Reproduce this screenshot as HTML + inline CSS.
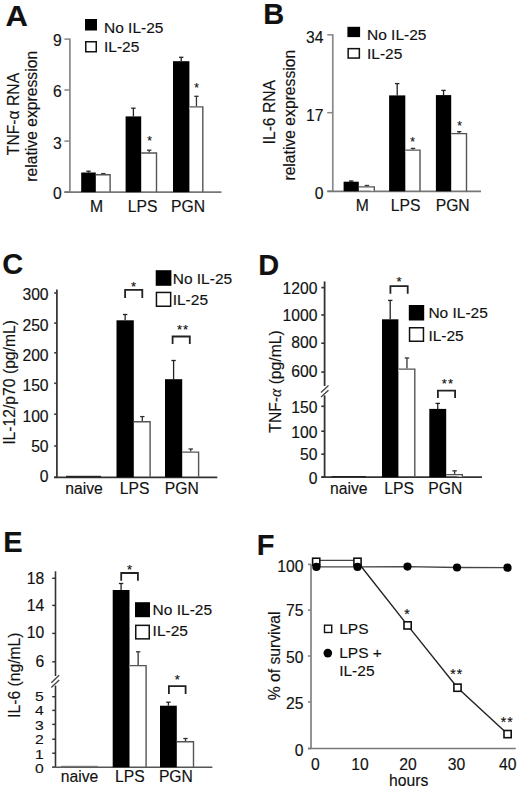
<!DOCTYPE html>
<html><head><meta charset="utf-8"><style>
html,body{margin:0;padding:0;background:#fff;width:520px;height:790px;overflow:hidden}
svg{display:block}
text{font-family:"Liberation Sans",sans-serif;fill:#111;stroke:#111;stroke-width:0.15px}
</style></head><body>
<svg width="520" height="790" viewBox="0 0 520 790">
<rect width="520" height="790" fill="#fff"/>
<text transform="translate(5.6,25.6) scale(1.07,1)" font-size="29" font-weight="bold">A</text>
<rect x="85" y="19" width="12" height="11.5" fill="#000" stroke="none" stroke-width="1.2"/>
<text x="104" y="32.6" font-size="15.5" text-anchor="start" font-weight="normal" >No IL-25</text>
<rect x="85.75" y="41.75" width="10.5" height="10.0" fill="#fff" stroke="#111" stroke-width="1.5"/>
<text x="104" y="51.5" font-size="15.5" text-anchor="start" font-weight="normal" >IL-25</text>
<line x1="69.9" y1="38.5" x2="69.9" y2="192.1" stroke="#888" stroke-width="1.7"/>
<line x1="64.4" y1="39.1" x2="69.9" y2="39.1" stroke="#888" stroke-width="1.53"/>
<text x="61.7" y="46.0206" font-size="15.7" text-anchor="end" font-weight="normal" >9</text>
<line x1="64.4" y1="90" x2="69.9" y2="90" stroke="#888" stroke-width="1.53"/>
<text x="61.7" y="96.72059999999999" font-size="15.7" text-anchor="end" font-weight="normal" >6</text>
<line x1="64.4" y1="141.1" x2="69.9" y2="141.1" stroke="#888" stroke-width="1.53"/>
<text x="61.7" y="148.9206" font-size="15.7" text-anchor="end" font-weight="normal" >3</text>
<line x1="64.4" y1="192.1" x2="69.9" y2="192.1" stroke="#888" stroke-width="1.53"/>
<text x="61.7" y="198.82059999999998" font-size="15.7" text-anchor="end" font-weight="normal" >0</text>
<line x1="64.4" y1="192.1" x2="221.5" y2="192.1" stroke="#777" stroke-width="1.7"/>
<line x1="88.5" y1="172.5" x2="88.5" y2="171.2" stroke="#222" stroke-width="1.3"/>
<line x1="86.3" y1="171.2" x2="90.7" y2="171.2" stroke="#222" stroke-width="1.3"/>
<rect x="81.2" y="172.5" width="14.599999999999994" height="19.599999999999994" fill="#000" stroke="none" stroke-width="1.2"/>
<line x1="103.3" y1="174.1" x2="103.3" y2="173.6" stroke="#333" stroke-width="1.3"/>
<line x1="101.1" y1="173.6" x2="105.5" y2="173.6" stroke="#333" stroke-width="1.3"/>
<path d="M95.8,174.7 H110.1 V192.1" stroke="#555" stroke-width="1.4" fill="#fff"/>
<line x1="133.39999999999998" y1="116.4" x2="133.39999999999998" y2="108.2" stroke="#222" stroke-width="1.3"/>
<line x1="131.2" y1="108.2" x2="135.59999999999997" y2="108.2" stroke="#222" stroke-width="1.3"/>
<rect x="125.6" y="116.4" width="15.599999999999994" height="75.69999999999999" fill="#000" stroke="none" stroke-width="1.2"/>
<line x1="149.2" y1="152.4" x2="149.2" y2="150.2" stroke="#333" stroke-width="1.3"/>
<line x1="147.0" y1="150.2" x2="151.39999999999998" y2="150.2" stroke="#333" stroke-width="1.3"/>
<path d="M141.2,153.0 H156.5 V192.1" stroke="#555" stroke-width="1.4" fill="#fff"/>
<text x="149.5" y="145.34" font-size="12" text-anchor="middle" font-weight="normal" >*</text>
<line x1="181.2" y1="61.2" x2="181.2" y2="57.3" stroke="#222" stroke-width="1.3"/>
<line x1="179.0" y1="57.3" x2="183.39999999999998" y2="57.3" stroke="#222" stroke-width="1.3"/>
<rect x="173" y="61.2" width="16.400000000000006" height="130.89999999999998" fill="#000" stroke="none" stroke-width="1.2"/>
<line x1="196.45" y1="106.3" x2="196.45" y2="96.3" stroke="#333" stroke-width="1.3"/>
<line x1="194.25" y1="96.3" x2="198.64999999999998" y2="96.3" stroke="#333" stroke-width="1.3"/>
<path d="M189.4,106.89999999999999 H202.8 V192.1" stroke="#555" stroke-width="1.4" fill="#fff"/>
<text x="196.5" y="92.34" font-size="12" text-anchor="middle" font-weight="normal" >*</text>
<text x="96.6" y="211.7" font-size="15.7" text-anchor="middle" font-weight="normal" >M</text>
<text x="142.6" y="211.7" font-size="15.7" text-anchor="middle" font-weight="normal" >LPS</text>
<text x="188" y="211.7" font-size="15.7" text-anchor="middle" font-weight="normal" >PGN</text>
<text transform="translate(18.6,114) rotate(-90)" font-size="15.7" text-anchor="middle" >TNF-α RNA</text>
<text transform="translate(37.2,116.3) rotate(-90)" font-size="15.7" text-anchor="middle" >relative expression</text>
<text x="263.2" y="23.8" font-size="29" text-anchor="start" font-weight="bold" >B</text>
<rect x="347.4" y="26.8" width="12.700000000000045" height="10.3" fill="#000" stroke="none" stroke-width="1.2"/>
<text x="367" y="40" font-size="15.5" text-anchor="start" font-weight="normal" >No IL-25</text>
<rect x="348.15" y="48.65" width="11.200000000000045" height="9.399999999999999" fill="#fff" stroke="#111" stroke-width="1.5"/>
<text x="367" y="58.6" font-size="15.5" text-anchor="start" font-weight="normal" >IL-25</text>
<line x1="332.8" y1="34.3" x2="332.8" y2="191.3" stroke="#888" stroke-width="1.7"/>
<line x1="327.3" y1="34.8" x2="332.8" y2="34.8" stroke="#888" stroke-width="1.53"/>
<text x="323.5" y="42.620599999999996" font-size="15.7" text-anchor="end" font-weight="normal" >34</text>
<line x1="327.3" y1="112.7" x2="332.8" y2="112.7" stroke="#888" stroke-width="1.53"/>
<text x="323.5" y="121.0206" font-size="15.7" text-anchor="end" font-weight="normal" >17</text>
<line x1="327.3" y1="191.3" x2="332.8" y2="191.3" stroke="#888" stroke-width="1.53"/>
<text x="323.5" y="199.2206" font-size="15.7" text-anchor="end" font-weight="normal" >0</text>
<line x1="327.3" y1="191.3" x2="481" y2="191.3" stroke="#777" stroke-width="1.7"/>
<line x1="351.20000000000005" y1="181.7" x2="351.20000000000005" y2="181" stroke="#222" stroke-width="1.3"/>
<line x1="349.00000000000006" y1="181" x2="353.40000000000003" y2="181" stroke="#222" stroke-width="1.3"/>
<rect x="343.6" y="181.7" width="15.199999999999989" height="9.600000000000023" fill="#000" stroke="none" stroke-width="1.2"/>
<line x1="366.9" y1="186.3" x2="366.9" y2="185.5" stroke="#333" stroke-width="1.3"/>
<line x1="364.7" y1="185.5" x2="369.09999999999997" y2="185.5" stroke="#333" stroke-width="1.3"/>
<path d="M358.8,186.9 H374.3 V191.3" stroke="#555" stroke-width="1.4" fill="#fff"/>
<line x1="397.20000000000005" y1="95.4" x2="397.20000000000005" y2="83.6" stroke="#222" stroke-width="1.3"/>
<line x1="395.00000000000006" y1="83.6" x2="399.40000000000003" y2="83.6" stroke="#222" stroke-width="1.3"/>
<rect x="389.1" y="95.4" width="16.19999999999999" height="95.9" fill="#000" stroke="none" stroke-width="1.2"/>
<line x1="413.0" y1="149.5" x2="413.0" y2="148.4" stroke="#333" stroke-width="1.3"/>
<line x1="410.8" y1="148.4" x2="415.2" y2="148.4" stroke="#333" stroke-width="1.3"/>
<path d="M405.3,150.1 H420.0 V191.3" stroke="#555" stroke-width="1.4" fill="#fff"/>
<text x="412.6" y="145.84" font-size="12" text-anchor="middle" font-weight="normal" >*</text>
<line x1="443.54999999999995" y1="95.1" x2="443.54999999999995" y2="90.4" stroke="#222" stroke-width="1.3"/>
<line x1="441.34999999999997" y1="90.4" x2="445.74999999999994" y2="90.4" stroke="#222" stroke-width="1.3"/>
<rect x="435.9" y="95.1" width="15.300000000000011" height="96.20000000000002" fill="#000" stroke="none" stroke-width="1.2"/>
<line x1="459.2" y1="133" x2="459.2" y2="131.7" stroke="#333" stroke-width="1.3"/>
<line x1="457.0" y1="131.7" x2="461.4" y2="131.7" stroke="#333" stroke-width="1.3"/>
<path d="M451.2,133.6 H466.5 V191.3" stroke="#555" stroke-width="1.4" fill="#fff"/>
<text x="459.6" y="130.24" font-size="12" text-anchor="middle" font-weight="normal" >*</text>
<text x="362.4" y="211.3" font-size="15.7" text-anchor="middle" font-weight="normal" >M</text>
<text x="405.7" y="211.3" font-size="15.7" text-anchor="middle" font-weight="normal" >LPS</text>
<text x="452.7" y="211.3" font-size="15.7" text-anchor="middle" font-weight="normal" >PGN</text>
<text transform="translate(275.3,112.2) rotate(-90)" font-size="15.7" text-anchor="middle" >IL-6 RNA</text>
<text transform="translate(294.5,115.2) rotate(-90)" font-size="15.7" text-anchor="middle" >relative expression</text>
<text x="2.3" y="274.2" font-size="29" text-anchor="start" font-weight="bold" >C</text>
<rect x="155.7" y="270.2" width="15.700000000000017" height="15.600000000000023" fill="#000" stroke="none" stroke-width="1.2"/>
<text x="172.7" y="284.2" font-size="15.5" text-anchor="start" font-weight="normal" >No IL-25</text>
<rect x="156.45" y="292.45" width="14.200000000000017" height="13.800000000000011" fill="#fff" stroke="#111" stroke-width="1.5"/>
<text x="172.7" y="305.2" font-size="15.5" text-anchor="start" font-weight="normal" >IL-25</text>
<line x1="56.9" y1="289.6" x2="56.9" y2="477.3" stroke="#3a3a3a" stroke-width="1.8"/>
<line x1="54.2" y1="293" x2="56.9" y2="293" stroke="#3a3a3a" stroke-width="1.62"/>
<text x="48.6" y="299.6206" font-size="15.7" text-anchor="end" font-weight="normal" >300</text>
<line x1="54.2" y1="323.1" x2="56.9" y2="323.1" stroke="#3a3a3a" stroke-width="1.62"/>
<text x="48.6" y="330.6206" font-size="15.7" text-anchor="end" font-weight="normal" >250</text>
<line x1="54.2" y1="352.8" x2="56.9" y2="352.8" stroke="#3a3a3a" stroke-width="1.62"/>
<text x="48.6" y="360.6206" font-size="15.7" text-anchor="end" font-weight="normal" >200</text>
<line x1="54.2" y1="383.3" x2="56.9" y2="383.3" stroke="#3a3a3a" stroke-width="1.62"/>
<text x="48.6" y="390.72060000000005" font-size="15.7" text-anchor="end" font-weight="normal" >150</text>
<line x1="54.2" y1="414.2" x2="56.9" y2="414.2" stroke="#3a3a3a" stroke-width="1.62"/>
<text x="48.6" y="421.6206" font-size="15.7" text-anchor="end" font-weight="normal" >100</text>
<line x1="54.2" y1="446" x2="56.9" y2="446" stroke="#3a3a3a" stroke-width="1.62"/>
<text x="48.6" y="452.0206" font-size="15.7" text-anchor="end" font-weight="normal" >50</text>
<line x1="54.2" y1="477.3" x2="56.9" y2="477.3" stroke="#3a3a3a" stroke-width="1.62"/>
<text x="48.6" y="482.22060000000005" font-size="15.7" text-anchor="end" font-weight="normal" >0</text>
<line x1="54.2" y1="477.3" x2="217.3" y2="477.3" stroke="#333" stroke-width="1.8"/>
<rect x="66" y="475.8" width="35" height="1.5" fill="#222" stroke="none" stroke-width="1.2"/>
<line x1="125.15" y1="320.3" x2="125.15" y2="314.5" stroke="#222" stroke-width="1.3"/>
<line x1="122.95" y1="314.5" x2="127.35000000000001" y2="314.5" stroke="#222" stroke-width="1.3"/>
<rect x="116.5" y="320.3" width="17.30000000000001" height="157.0" fill="#000" stroke="none" stroke-width="1.2"/>
<line x1="142.3" y1="421.2" x2="142.3" y2="416.6" stroke="#333" stroke-width="1.3"/>
<line x1="140.10000000000002" y1="416.6" x2="144.5" y2="416.6" stroke="#333" stroke-width="1.3"/>
<path d="M133.8,421.8 H150.10000000000002 V477.3" stroke="#555" stroke-width="1.4" fill="#fff"/>
<line x1="173.6" y1="379.2" x2="173.6" y2="360.5" stroke="#222" stroke-width="1.3"/>
<line x1="171.4" y1="360.5" x2="175.79999999999998" y2="360.5" stroke="#222" stroke-width="1.3"/>
<rect x="165" y="379.2" width="17.19999999999999" height="98.10000000000002" fill="#000" stroke="none" stroke-width="1.2"/>
<line x1="190.75" y1="451.5" x2="190.75" y2="449" stroke="#333" stroke-width="1.3"/>
<line x1="188.55" y1="449" x2="192.95" y2="449" stroke="#333" stroke-width="1.3"/>
<path d="M182.2,452.1 H198.60000000000002 V477.3" stroke="#555" stroke-width="1.4" fill="#fff"/>
<path d="M125.10000000000001,298.1 V289.90000000000003 H142.29999999999998 V298.1" stroke="#222" stroke-width="1.8" fill="none" />
<text x="133.5" y="291.085" font-size="13" text-anchor="middle" font-weight="normal" >*</text>
<path d="M172.6,343.9 V336.5 H189.79999999999998 V343.9" stroke="#222" stroke-width="1.8" fill="none" />
<text x="183.1" y="334.085" font-size="13" text-anchor="middle" font-weight="normal" letter-spacing="1.0">**</text>
<text x="84" y="493.5" font-size="15.7" text-anchor="middle" font-weight="normal" >naive</text>
<text x="134.6" y="493.8" font-size="15.7" text-anchor="middle" font-weight="normal" >LPS</text>
<text x="181.8" y="493.8" font-size="15.7" text-anchor="middle" font-weight="normal" >PGN</text>
<text transform="translate(14.5,382.4) rotate(-90)" font-size="15.7" text-anchor="middle" >IL-12/p70 (pg/mL)</text>
<text x="258.3" y="274.8" font-size="29" text-anchor="start" font-weight="bold" >D</text>
<rect x="408.8" y="305" width="15.399999999999977" height="15.5" fill="#000" stroke="none" stroke-width="1.2"/>
<text x="428.4" y="318.2" font-size="15.5" text-anchor="start" font-weight="normal" >No IL-25</text>
<rect x="409.55" y="327.75" width="13.899999999999977" height="13.5" fill="#fff" stroke="#111" stroke-width="1.5"/>
<text x="428.4" y="340.8" font-size="15.5" text-anchor="start" font-weight="normal" >IL-25</text>
<line x1="324.6" y1="281.4" x2="324.6" y2="386" stroke="#333" stroke-width="1.8"/>
<line x1="321.3" y1="287.6" x2="324.6" y2="287.6" stroke="#333" stroke-width="1.62"/>
<text x="317.5" y="293.8206" font-size="15.7" text-anchor="end" font-weight="normal" >1200</text>
<line x1="321.3" y1="315" x2="324.6" y2="315" stroke="#333" stroke-width="1.62"/>
<text x="317.5" y="320.6206" font-size="15.7" text-anchor="end" font-weight="normal" >1000</text>
<line x1="321.3" y1="343.2" x2="324.6" y2="343.2" stroke="#333" stroke-width="1.62"/>
<text x="317.5" y="348.1206" font-size="15.7" text-anchor="end" font-weight="normal" >800</text>
<line x1="321.3" y1="372.1" x2="324.6" y2="372.1" stroke="#333" stroke-width="1.62"/>
<text x="317.5" y="377.22060000000005" font-size="15.7" text-anchor="end" font-weight="normal" >600</text>
<line x1="324.6" y1="395.4" x2="324.6" y2="477.1" stroke="#333" stroke-width="1.8"/>
<line x1="321.3" y1="406.3" x2="324.6" y2="406.3" stroke="#333" stroke-width="1.62"/>
<text x="317.5" y="413.1206" font-size="15.7" text-anchor="end" font-weight="normal" >150</text>
<line x1="321.3" y1="431.2" x2="324.6" y2="431.2" stroke="#333" stroke-width="1.62"/>
<text x="317.5" y="438.42060000000004" font-size="15.7" text-anchor="end" font-weight="normal" >100</text>
<line x1="321.3" y1="454.2" x2="324.6" y2="454.2" stroke="#333" stroke-width="1.62"/>
<text x="317.5" y="459.8206" font-size="15.7" text-anchor="end" font-weight="normal" >50</text>
<line x1="321.3" y1="477.1" x2="324.6" y2="477.1" stroke="#333" stroke-width="1.62"/>
<text x="317.5" y="484.1206" font-size="15.7" text-anchor="end" font-weight="normal" >0</text>
<line x1="321" y1="392.5" x2="328.5" y2="385.6" stroke="#444" stroke-width="1.3"/>
<line x1="321" y1="397.1" x2="328.5" y2="390.2" stroke="#444" stroke-width="1.3"/>
<line x1="321.3" y1="477.1" x2="482" y2="477.1" stroke="#333" stroke-width="1.8"/>
<rect x="331.5" y="476" width="34.5" height="1.1000000000000227" fill="#222" stroke="none" stroke-width="1.2"/>
<line x1="390.2" y1="319.3" x2="390.2" y2="300.4" stroke="#222" stroke-width="1.3"/>
<line x1="388.0" y1="300.4" x2="392.4" y2="300.4" stroke="#222" stroke-width="1.3"/>
<rect x="382" y="319.3" width="16.399999999999977" height="157.8" fill="#000" stroke="none" stroke-width="1.2"/>
<line x1="406.95" y1="368.5" x2="406.95" y2="358" stroke="#333" stroke-width="1.3"/>
<line x1="404.75" y1="358" x2="409.15" y2="358" stroke="#333" stroke-width="1.3"/>
<path d="M398.4,369.1 H414.8 V477.1" stroke="#555" stroke-width="1.4" fill="#fff"/>
<line x1="437.75" y1="408.9" x2="437.75" y2="403.4" stroke="#222" stroke-width="1.3"/>
<line x1="435.55" y1="403.4" x2="439.95" y2="403.4" stroke="#222" stroke-width="1.3"/>
<rect x="429.3" y="408.9" width="16.899999999999977" height="68.20000000000005" fill="#000" stroke="none" stroke-width="1.2"/>
<line x1="454.6" y1="474" x2="454.6" y2="470.8" stroke="#333" stroke-width="1.3"/>
<line x1="452.40000000000003" y1="470.8" x2="456.8" y2="470.8" stroke="#333" stroke-width="1.3"/>
<path d="M446.2,474.6 H462.3 V477.1" stroke="#555" stroke-width="1.4" fill="#fff"/>
<path d="M390.4,293.7 V286.1 H407.70000000000005 V293.7" stroke="#222" stroke-width="1.8" fill="none" />
<text x="399.1" y="286.385" font-size="13" text-anchor="middle" font-weight="normal" >*</text>
<path d="M437.9,398.1 V390.6 H455.1 V398.1" stroke="#222" stroke-width="1.8" fill="none" />
<text x="447.9" y="387.885" font-size="13" text-anchor="middle" font-weight="normal" letter-spacing="1.0">**</text>
<text x="348.8" y="493.9" font-size="15.7" text-anchor="middle" font-weight="normal" >naive</text>
<text x="399.2" y="493.9" font-size="15.7" text-anchor="middle" font-weight="normal" >LPS</text>
<text x="445.3" y="493.9" font-size="15.7" text-anchor="middle" font-weight="normal" >PGN</text>
<text transform="translate(280.5,381.5) rotate(-90)" font-size="15.7" text-anchor="middle" >TNF-<tspan font-family="Liberation Serif" font-style="italic">α</tspan> (pg/mL)</text>
<text x="3.2" y="551.9" font-size="29" text-anchor="start" font-weight="bold" >E</text>
<rect x="135" y="602.2" width="15" height="15.0" fill="#000" stroke="none" stroke-width="1.2"/>
<text x="152.6" y="615.4" font-size="15.5" text-anchor="start" font-weight="normal" >No IL-25</text>
<rect x="135.75" y="625.35" width="13.5" height="13.5" fill="#fff" stroke="#111" stroke-width="1.5"/>
<text x="152.6" y="636.1" font-size="15.5" text-anchor="start" font-weight="normal" >IL-25</text>
<line x1="55.5" y1="571.3" x2="55.5" y2="676" stroke="#333" stroke-width="1.6"/>
<line x1="52.2" y1="578.3" x2="55.5" y2="578.3" stroke="#333" stroke-width="1.4400000000000002"/>
<text x="44.2" y="583.6206" font-size="15.7" text-anchor="end" font-weight="normal" >18</text>
<line x1="52.2" y1="605.4" x2="55.5" y2="605.4" stroke="#333" stroke-width="1.4400000000000002"/>
<text x="44.2" y="611.2206" font-size="15.7" text-anchor="end" font-weight="normal" >14</text>
<line x1="52.2" y1="633.4" x2="55.5" y2="633.4" stroke="#333" stroke-width="1.4400000000000002"/>
<text x="44.2" y="638.3206" font-size="15.7" text-anchor="end" font-weight="normal" >10</text>
<line x1="52.2" y1="661.8" x2="55.5" y2="661.8" stroke="#333" stroke-width="1.4400000000000002"/>
<text x="44.2" y="667.2206" font-size="15.7" text-anchor="end" font-weight="normal" >6</text>
<line x1="55.5" y1="685.6" x2="55.5" y2="767.2" stroke="#333" stroke-width="1.6"/>
<line x1="52.2" y1="696.7" x2="55.5" y2="696.7" stroke="#333" stroke-width="1.4400000000000002"/>
<text transform="translate(43.7,701.25) scale(1,0.86)" font-size="15.7" text-anchor="end">5</text>
<line x1="52.2" y1="710.4" x2="55.5" y2="710.4" stroke="#333" stroke-width="1.4400000000000002"/>
<text transform="translate(43.7,715.45) scale(1,0.86)" font-size="15.7" text-anchor="end">4</text>
<line x1="52.2" y1="724.4" x2="55.5" y2="724.4" stroke="#333" stroke-width="1.4400000000000002"/>
<text transform="translate(43.7,729.95) scale(1,0.86)" font-size="15.7" text-anchor="end">3</text>
<line x1="52.2" y1="739.2" x2="55.5" y2="739.2" stroke="#333" stroke-width="1.4400000000000002"/>
<text transform="translate(43.7,743.95) scale(1,0.86)" font-size="15.7" text-anchor="end">2</text>
<line x1="52.2" y1="753.2" x2="55.5" y2="753.2" stroke="#333" stroke-width="1.4400000000000002"/>
<text transform="translate(43.7,758.95) scale(1,0.86)" font-size="15.7" text-anchor="end">1</text>
<line x1="52.2" y1="767.2" x2="55.5" y2="767.2" stroke="#333" stroke-width="1.4400000000000002"/>
<text transform="translate(43.7,772.95) scale(1,0.86)" font-size="15.7" text-anchor="end">0</text>
<line x1="51.3" y1="682.7" x2="59.2" y2="675.2" stroke="#444" stroke-width="1.3"/>
<line x1="51.3" y1="687.5" x2="59.2" y2="680" stroke="#444" stroke-width="1.3"/>
<line x1="52.2" y1="767.2" x2="212.4" y2="767.2" stroke="#555" stroke-width="1.6"/>
<rect x="61" y="765.8" width="37" height="1.400000000000091" fill="#777" stroke="none" stroke-width="1.2"/>
<line x1="121.1" y1="590" x2="121.1" y2="583.5" stroke="#222" stroke-width="1.3"/>
<line x1="118.89999999999999" y1="583.5" x2="123.3" y2="583.5" stroke="#222" stroke-width="1.3"/>
<rect x="112.7" y="590" width="16.799999999999997" height="177.20000000000005" fill="#000" stroke="none" stroke-width="1.2"/>
<line x1="138.15" y1="665" x2="138.15" y2="651.8" stroke="#333" stroke-width="1.3"/>
<line x1="135.95000000000002" y1="651.8" x2="140.35" y2="651.8" stroke="#333" stroke-width="1.3"/>
<path d="M129.5,665.6 H146.10000000000002 V767.2" stroke="#555" stroke-width="1.4" fill="#fff"/>
<line x1="168.4" y1="705.7" x2="168.4" y2="702.2" stroke="#222" stroke-width="1.3"/>
<line x1="166.20000000000002" y1="702.2" x2="170.6" y2="702.2" stroke="#222" stroke-width="1.3"/>
<rect x="160" y="705.7" width="16.80000000000001" height="61.5" fill="#000" stroke="none" stroke-width="1.2"/>
<line x1="185.5" y1="741.2" x2="185.5" y2="738.5" stroke="#333" stroke-width="1.3"/>
<line x1="183.3" y1="738.5" x2="187.7" y2="738.5" stroke="#333" stroke-width="1.3"/>
<path d="M176.8,741.8000000000001 H193.5 V767.2" stroke="#555" stroke-width="1.4" fill="#fff"/>
<path d="M121.2,580.8 V573.0 H137.9 V580.8" stroke="#222" stroke-width="1.8" fill="none" />
<text x="129.5" y="573.885" font-size="13" text-anchor="middle" font-weight="normal" >*</text>
<path d="M168.9,694.0 V686.0999999999999 H185.6 V694.0" stroke="#222" stroke-width="1.8" fill="none" />
<text x="177.3" y="683.6850000000001" font-size="13" text-anchor="middle" font-weight="normal" >*</text>
<text x="79.6" y="782.4" font-size="15.7" text-anchor="middle" font-weight="normal" >naive</text>
<text x="129.8" y="782.4" font-size="15.7" text-anchor="middle" font-weight="normal" >LPS</text>
<text x="175.9" y="782.4" font-size="15.7" text-anchor="middle" font-weight="normal" >PGN</text>
<text transform="translate(19.5,675.2) rotate(-90)" font-size="15.7" text-anchor="middle" >IL-6 (ng/mL)</text>
<text x="256.8" y="554.9" font-size="29" text-anchor="start" font-weight="bold" >F</text>
<line x1="311" y1="564.4" x2="311" y2="748.5" stroke="#888" stroke-width="1.8"/>
<line x1="308" y1="564.4" x2="311" y2="564.4" stroke="#888" stroke-width="1.62"/>
<text x="303.40000000000003" y="571.8206" font-size="15.7" text-anchor="end" font-weight="normal" >100</text>
<line x1="308" y1="610.2" x2="311" y2="610.2" stroke="#888" stroke-width="1.62"/>
<text x="303.40000000000003" y="615.6206" font-size="15.7" text-anchor="end" font-weight="normal" >75</text>
<line x1="308" y1="656" x2="311" y2="656" stroke="#888" stroke-width="1.62"/>
<text x="303.40000000000003" y="662.8206" font-size="15.7" text-anchor="end" font-weight="normal" >50</text>
<line x1="308" y1="701.9" x2="311" y2="701.9" stroke="#888" stroke-width="1.62"/>
<text x="303.40000000000003" y="709.1206" font-size="15.7" text-anchor="end" font-weight="normal" >25</text>
<line x1="308" y1="748.5" x2="311" y2="748.5" stroke="#888" stroke-width="1.62"/>
<text x="303.40000000000003" y="756.4205999999999" font-size="15.7" text-anchor="end" font-weight="normal" >0</text>
<line x1="308" y1="748.5" x2="515.7" y2="748.5" stroke="#777" stroke-width="1.7"/>
<path d="M316.4,566.9 L357.5,566.9 L407.5,566.6 L457,567.5 L507.5,567.7" stroke="#444" stroke-width="1.3" fill="none" />
<path d="M316.2,560.4 L357.5,560.4" stroke="#444" stroke-width="1.3" fill="none" />
<path d="M357.5,561.8 L407.6,625.4 L457.5,687.7 L507.6,734.1" stroke="#222" stroke-width="1.4" fill="none" />
<rect x="312.59999999999997" y="558.1999999999999" width="7.2" height="7.2" fill="#fff" stroke="#111" stroke-width="1.6"/>
<rect x="353.9" y="558.1999999999999" width="7.2" height="7.2" fill="#fff" stroke="#111" stroke-width="1.6"/>
<rect x="404.0" y="621.8" width="7.2" height="7.2" fill="#fff" stroke="#111" stroke-width="1.6"/>
<rect x="453.9" y="684.1" width="7.2" height="7.2" fill="#fff" stroke="#111" stroke-width="1.6"/>
<rect x="504.0" y="730.5" width="7.2" height="7.2" fill="#fff" stroke="#111" stroke-width="1.6"/>
<circle cx="316.4" cy="566.9" r="4.1" fill="#000"/>
<circle cx="357.5" cy="566.9" r="4.1" fill="#000"/>
<circle cx="407.5" cy="566.6" r="4.1" fill="#000"/>
<circle cx="457" cy="567.5" r="4.1" fill="#000"/>
<circle cx="507.5" cy="567.7" r="4.1" fill="#000"/>
<text x="407" y="618.93" font-size="14" text-anchor="middle" font-weight="normal" >*</text>
<text x="456.7" y="678.73" font-size="14" text-anchor="middle" font-weight="normal" letter-spacing="1.0">**</text>
<text x="507.3" y="726.73" font-size="14" text-anchor="middle" font-weight="normal" letter-spacing="1.0">**</text>
<rect x="324.5" y="625.2" width="7.2" height="7.3" fill="#fff" stroke="#111" stroke-width="1.4"/>
<text x="339.2" y="633.7" font-size="15.5" text-anchor="start" font-weight="normal" >LPS</text>
<circle cx="327.8" cy="653.1" r="4.3" fill="#000"/>
<text x="339.2" y="658.3" font-size="15.5" text-anchor="start" font-weight="normal" >LPS +</text>
<text x="339.2" y="676.2" font-size="15.5" text-anchor="start" font-weight="normal" >IL-25</text>
<text x="315.4" y="770.1" font-size="15.7" text-anchor="middle" font-weight="normal" >0</text>
<text x="360" y="770.1" font-size="15.7" text-anchor="middle" font-weight="normal" >10</text>
<text x="408.1" y="770.1" font-size="15.7" text-anchor="middle" font-weight="normal" >20</text>
<text x="456.5" y="770.1" font-size="15.7" text-anchor="middle" font-weight="normal" >30</text>
<text x="507.7" y="770.1" font-size="15.7" text-anchor="middle" font-weight="normal" >40</text>
<text x="408.7" y="786" font-size="15.7" text-anchor="middle" font-weight="normal" >hours</text>
<text transform="translate(280,655.9) rotate(-90)" font-size="15.7" text-anchor="middle" >% of survival</text>
</svg>
</body></html>
